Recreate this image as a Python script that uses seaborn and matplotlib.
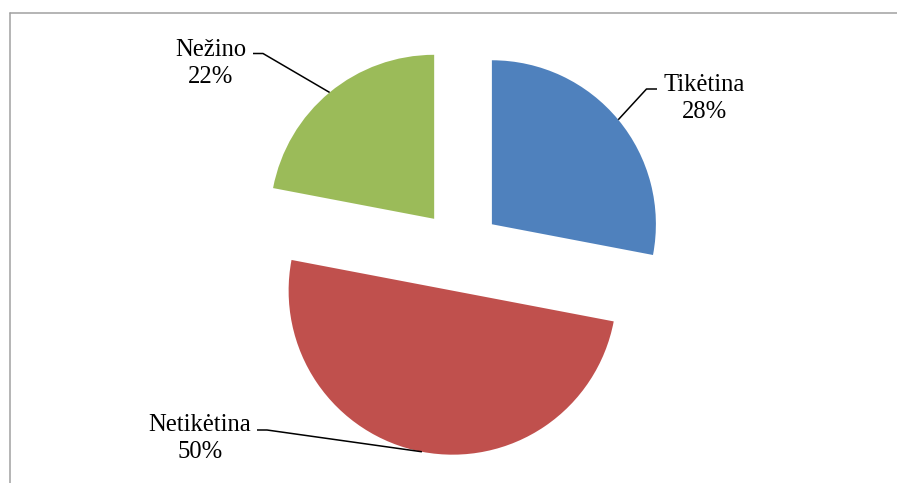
import numpy as np
import matplotlib
matplotlib.use("Agg")
import matplotlib.pyplot as plt
from matplotlib.lines import Line2D
import seaborn as sns

# Survey answers and their shares
categories = ["Tikėtina", "Netikėtina", "Nežino"]
shares = [28, 50, 22]
pct_labels = ["28%", "50%", "22%"]
colors = ["#4F81BD", "#C0504D", "#9BBB59"]

sns.set_theme(style="white")
plt.rcParams["font.family"] = ["Liberation Serif", "DejaVu Serif"]

W, H = 897, 483
fig = plt.figure(figsize=(W / 100, H / 100), dpi=100)
fig.patch.set_facecolor("white")
ax = fig.add_axes([0, 0, 1, 1])

wedges, _ = ax.pie(
    shares,
    colors=colors,
    startangle=90,
    counterclock=False,
    explode=[0.25] * len(shares),
    radius=1.0,
    wedgeprops=dict(linewidth=0),
)

# one radius = 164 px, pie centre placed at (460, 250) px from the top-left
scale = 164.0
cx_px, cy_px = 460.3, 250.4
ax.set_xlim(-cx_px / scale, (W - cx_px) / scale)
ax.set_ylim(-(H - cy_px) / scale, cy_px / scale)
ax.set_aspect("auto")
ax.axis("off")


def px(x, y):
    """Convert pixel position (origin top-left) to data coordinates."""
    return (x - cx_px) / scale, (cy_px - y) / scale


# label anchor (baseline of the percentage line), leader elbow and end, in pixels
label_layout = {
    "Tikėtina": dict(text=(704, 118), elbow=(646.5, 89), end=(657, 89)),
    "Netikėtina": dict(text=(200, 458), elbow=(267, 430), end=(257, 430)),
    "Nežino": dict(text=(211, 83), elbow=(263, 53.5), end=(253, 53.5)),
}

for w, cat, pct in zip(wedges, categories, pct_labels):
    lay = label_layout[cat]
    mid = np.deg2rad((w.theta1 + w.theta2) / 2)
    ox, oy = w.center
    ax_pt = (ox + w.r * np.cos(mid), oy + w.r * np.sin(mid))
    ex = px(*lay["elbow"])
    en = px(*lay["end"])
    ax.plot([ax_pt[0], ex[0], en[0]], [ax_pt[1], ex[1], en[1]],
            color="black", lw=1.1, solid_capstyle="butt", zorder=3)
    tx, ty = px(*lay["text"])
    ax.text(tx, ty, f"{cat}\n{pct}", ha="center", va="baseline",
            multialignment="center", fontsize=17.7, color="black",
            linespacing=1.31, zorder=4)

# chart-area frame
frame_kw = dict(transform=fig.transFigure, color="#A0A0A0", lw=1.1)
fig.add_artist(Line2D([9.5 / W, 9.5 / W], [-0.01, 1 - 12.5 / H], **frame_kw))
fig.add_artist(Line2D([9.5 / W, 1.01], [1 - 12.5 / H, 1 - 12.5 / H], **frame_kw))

fig.savefig("out.png", dpi=100, facecolor="white")
